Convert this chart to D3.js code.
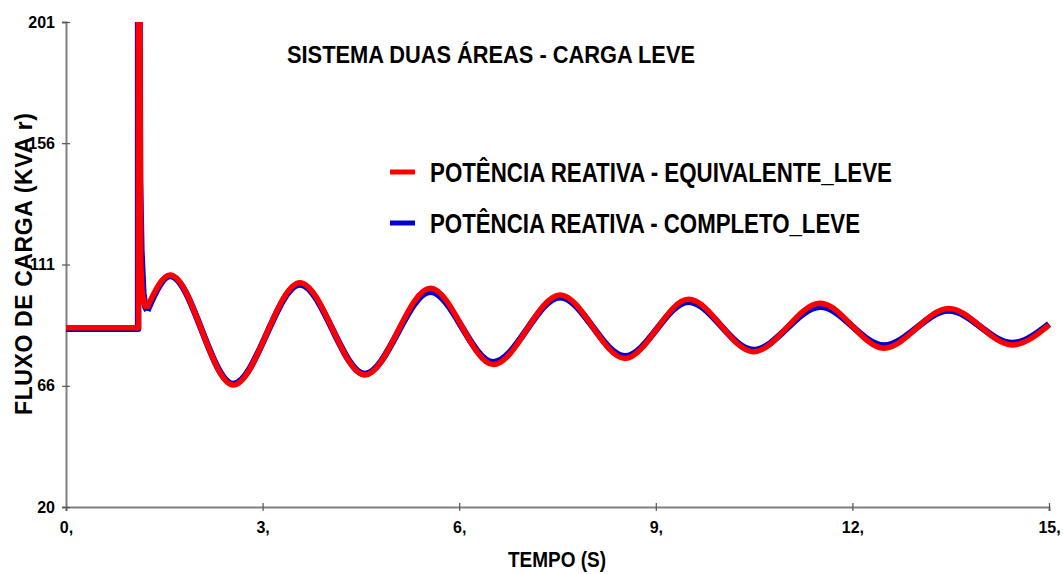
<!DOCTYPE html>
<html>
<head>
<meta charset="utf-8">
<script src="https://cdn.jsdelivr.net/npm/d3@7"></script>
<style>
  html, body { margin: 0; padding: 0; background: #fff; }
  svg { display: block; }
  .bold { font-weight: bold; fill: #000; }
</style>
</head>
<body>
<svg id="chart" width="1063" height="574"></svg>
<script>
// ---- Data ----
const title = "SISTEMA DUAS ÁREAS - CARGA LEVE";
const xTitle = "TEMPO (S)";
const yTitle = "FLUXO DE CARGA (KVA r)";
const seriesNames = ["POTÊNCIA REATIVA - EQUIVALENTE_LEVE", "POTÊNCIA REATIVA - COMPLETO_LEVE"];
const seriesColors = ["#ff0000", "#0000cc"];

const xTickValues = [0, 3, 6, 9, 12, 15];
const xTickLabels = ["0,", "3,", "6,", "9,", "12,", "15,"];
const yTickValues = [20.5, 65.6, 110.75, 155.9, 201];
const yTickLabels = ["20", "66", "111", "156", "201"];

// Red: step + spike segment (time s, kVAr)
const redPreT = [0, 1.105, 1.105, 1.125, 1.14, 1.16, 1.19, 1.23];
const redPreV = [87.2, 87.2, 215, 215, 112, 101, 96.5, 94.4];
// Red: oscillation extremes
const redOscT = [1.23, 1.59, 2.55, 3.57, 4.56, 5.56, 6.52, 7.54, 8.53, 9.50, 10.49, 11.51, 12.48, 13.47, 14.44, 15.0];
const redOscV = [94.4, 106.8, 65.9, 104.0, 69.6, 101.9, 73.5, 99.4, 75.8, 97.8, 78.3, 96.3, 79.6, 94.4, 80.8, 88.2];

// Blue: step + spike segment
const bluePreT = [0, 1.10, 1.10, 1.12, 1.13, 1.15, 1.18, 1.21, 1.24];
const bluePreV = [86.8, 86.8, 215, 215, 142, 116, 100, 95, 93.6];
// Blue: oscillation extremes
const blueOscT = [1.24, 1.59, 2.55, 3.57, 4.56, 5.56, 6.52, 7.54, 8.53, 9.50, 10.49, 11.51, 12.48, 13.47, 14.44, 15.0];
const blueOscV = [93.6, 106.5, 66.3, 103.3, 70.0, 100.6, 74.4, 98.6, 76.6, 96.9, 78.9, 95.0, 80.6, 93.6, 81.5, 88.6];

// ---- Layout ----
const svg = d3.select("#chart");
const pLeft = 66, pRight = 1049, pTop = 22, pBottom = 507;

const x = d3.scaleLinear().domain([0, 15]).range([pLeft, pRight]);
const y = d3.scaleLinear().domain([20.5, 201]).range([pBottom, pTop]);

const narrow = "'Liberation Sans Narrow','Arial Narrow','Liberation Sans',Arial,sans-serif";
const sans = "'Liberation Sans',Arial,sans-serif";

svg.append("defs").append("clipPath").attr("id", "plotClip")
  .append("rect").attr("x", pLeft).attr("y", pTop).attr("width", pRight - pLeft + 6).attr("height", pBottom - pTop);

// Axes
const xAxis = d3.axisBottom(x).tickValues(xTickValues)
  .tickFormat((d, i) => xTickLabels[i]).tickSizeOuter(0).tickSize(4).tickPadding(11);
const yAxis = d3.axisLeft(y).tickValues(yTickValues)
  .tickFormat((d, i) => yTickLabels[i]).tickSizeOuter(0).tickSize(4).tickPadding(7);

const gx = svg.append("g").attr("transform", `translate(0,${pBottom})`).call(xAxis);
const gy = svg.append("g").attr("transform", `translate(${pLeft},0)`).call(yAxis);

[gx, gy].forEach(g => {
  g.select(".domain").attr("stroke", "#808080").attr("stroke-width", 2);
  g.selectAll(".tick line").attr("stroke", "#555").attr("stroke-width", 1.2);
  g.selectAll(".tick text").attr("fill", "#000").attr("font-weight", "bold")
    .attr("font-family", narrow).attr("font-size", 16);
});
gx.selectAll(".tick line").attr("y1", -4).attr("y2", 4);
gy.selectAll(".tick line").attr("x1", -4).attr("x2", 4);

// Lines
const lineLin = d3.line().x(d => x(d[0])).y(d => y(d[1])).curve(d3.curveLinear);
const lineSmooth = d3.line().x(d => x(d[0])).y(d => y(d[1])).curve(d3.curveMonotoneX);
const zip = (a, b) => a.map((t, i) => [t, b[i]]);

const plot = svg.append("g").attr("clip-path", "url(#plotClip)");

function drawSeries(preT, preV, oscT, oscV, color, width) {
  const g = plot.append("g").attr("fill", "none").attr("stroke", color)
    .attr("stroke-width", width).attr("stroke-linejoin", "round").attr("stroke-linecap", "butt");
  g.append("path").attr("d", lineLin(zip(preT, preV)));
  g.append("path").attr("d", lineSmooth(zip(oscT, oscV)));
}
drawSeries(bluePreT, bluePreV, blueOscT, blueOscV, seriesColors[1], 6.5);
drawSeries(redPreT, redPreV, redOscT, redOscV, seriesColors[0], 5.5);

// Title
svg.append("text").attr("class", "bold").attr("x", 287).attr("y", 63)
  .attr("font-family", narrow).attr("font-size", 24)
  .attr("textLength", 408).attr("lengthAdjust", "spacingAndGlyphs").text(title);

// Legend
const legY = [172, 223];
const legEnd = [892, 860];
seriesNames.forEach((name, i) => {
  svg.append("line").attr("x1", 390).attr("x2", 415).attr("y1", legY[i]).attr("y2", legY[i])
    .attr("stroke", seriesColors[i]).attr("stroke-width", 5);
  svg.append("text").attr("class", "bold").attr("x", 430).attr("y", legY[i] + 10)
    .attr("font-family", narrow).attr("font-size", 27)
    .attr("textLength", legEnd[i] - 430).attr("lengthAdjust", "spacingAndGlyphs").text(name);
});

// Axis titles
svg.append("text").attr("class", "bold").attr("x", 557).attr("y", 567)
  .attr("text-anchor", "middle").attr("font-family", narrow).attr("font-size", 22)
  .attr("textLength", 98).attr("lengthAdjust", "spacingAndGlyphs").text(xTitle);

svg.append("text").attr("class", "bold")
  .attr("transform", "translate(32,264) rotate(-90)")
  .attr("text-anchor", "middle").attr("font-family", sans).attr("font-size", 23)
  .attr("textLength", 302).attr("lengthAdjust", "spacing").text(yTitle);
</script>
</body>
</html>
